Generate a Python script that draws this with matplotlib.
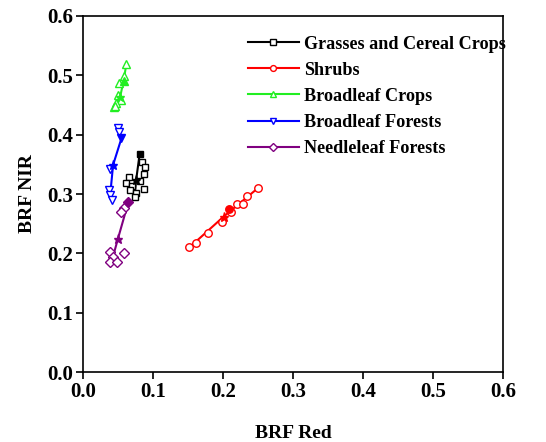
import matplotlib
matplotlib.use('Agg')
import matplotlib.pyplot as plt
from matplotlib.lines import Line2D

plt.rcParams['font.family'] = ['Liberation Serif', 'DejaVu Serif']
plt.rcParams['font.weight'] = 'bold'

# open markers (individual samples)
grass_x = [0.085, 0.088, 0.087, 0.066, 0.062, 0.087, 0.070, 0.067, 0.076, 0.074, 0.081]
grass_y = [0.354, 0.346, 0.333, 0.329, 0.318, 0.309, 0.314, 0.307, 0.301, 0.295, 0.322]
shrub_x = [0.152, 0.161, 0.179, 0.198, 0.211, 0.220, 0.228, 0.234, 0.250]
shrub_y = [0.210, 0.217, 0.235, 0.253, 0.270, 0.283, 0.283, 0.296, 0.310]
bcrop_x = [0.062, 0.059, 0.052, 0.050, 0.054, 0.047, 0.044, 0.046]
bcrop_y = [0.519, 0.499, 0.487, 0.467, 0.459, 0.453, 0.446, 0.449]
bfor_x = [0.050, 0.051, 0.039, 0.037, 0.039, 0.041]
bfor_y = [0.412, 0.405, 0.342, 0.307, 0.298, 0.290]
nfor_x = [0.058, 0.055, 0.039, 0.043, 0.039, 0.048, 0.058]
nfor_y = [0.276, 0.270, 0.203, 0.194, 0.186, 0.186, 0.200]

# filled marker and star for each class
fill_x = [0.081, 0.209, 0.058, 0.055, 0.065]
fill_y = [0.368, 0.275, 0.491, 0.394, 0.287]
star_x = [0.076, 0.201, 0.053, 0.043, 0.050]
star_y = [0.324, 0.262, 0.463, 0.349, 0.225]

# connecting lines
grass_lx = [0.081, 0.076, 0.074]
grass_ly = [0.368, 0.324, 0.300]
shrub_lx = [0.152, 0.201, 0.250]
shrub_ly = [0.210, 0.262, 0.310]
bcrop_lx = [0.062, 0.058, 0.053, 0.046]
bcrop_ly = [0.519, 0.491, 0.463, 0.449]
bfor_lx = [0.055, 0.043, 0.039]
bfor_ly = [0.394, 0.349, 0.300]
nfor_lx = [0.065, 0.050, 0.043]
nfor_ly = [0.287, 0.225, 0.195]

names = ['Grasses and Cereal Crops', 'Shrubs', 'Broadleaf Crops',
         'Broadleaf Forests', 'Needleleaf Forests']
colors = ['black', '#ff0000', '#22ee22', '#0000ff', '#800080']
markers = ['s', 'o', '^', 'v', 'D']
sizes = [5.0, 5.4, 5.8, 5.8, 4.6]

pts = [(grass_x, grass_y), (shrub_x, shrub_y), (bcrop_x, bcrop_y),
       (bfor_x, bfor_y), (nfor_x, nfor_y)]
lines = [(grass_lx, grass_ly), (shrub_lx, shrub_ly), (bcrop_lx, bcrop_ly),
         (bfor_lx, bfor_ly), (nfor_lx, nfor_ly)]

fig = plt.figure(figsize=(5.46, 4.42), dpi=100)
ax = fig.add_axes([0.152, 0.158, 0.769, 0.806])

handles = []
for i in range(5):
    c, m, ms = colors[i], markers[i], sizes[i]
    ax.plot(lines[i][0], lines[i][1], '-', color=c, lw=1.5, zorder=2)
    ax.plot(pts[i][0], pts[i][1], ls='none', marker=m, ms=ms, mfc='white',
            mec=c, mew=1.0, zorder=3)
    ax.plot(fill_x[i], fill_y[i], ls='none', marker=m, ms=ms, mfc=c, mec=c, zorder=4)
    ax.plot(star_x[i], star_y[i], ls='none', marker='*', ms=6.5, mfc=c, mec=c, zorder=4)
    handles.append(Line2D([], [], color=c, lw=1.5, marker=m, ms=4.2,
                          mfc='white', mec=c, mew=1.0))

ax.set_xlim(0, 0.6)
ax.set_ylim(0, 0.6)
ticks = [0.0, 0.1, 0.2, 0.3, 0.4, 0.5, 0.6]
ax.set_xticks(ticks)
ax.set_yticks(ticks)
ax.set_xticklabels(['%.1f' % t for t in ticks])
ax.set_yticklabels(['%.1f' % t for t in ticks])
ax.tick_params(direction='out', length=5, width=1.2, labelsize=15, pad=2)
for s in ax.spines.values():
    s.set_linewidth(1.2)

ax.set_xlabel('BRF Red', fontsize=14, fontweight='bold', labelpad=17)
ax.set_ylabel('BRF NIR', fontsize=14, fontweight='bold', labelpad=8)

ax.legend(handles, names, loc='upper left', bbox_to_anchor=(0.375, 0.965),
          frameon=False, fontsize=13.1, handlelength=2.8, handletextpad=0.3,
          labelspacing=0.5, borderaxespad=0)

fig.savefig('out.png', dpi=100)
